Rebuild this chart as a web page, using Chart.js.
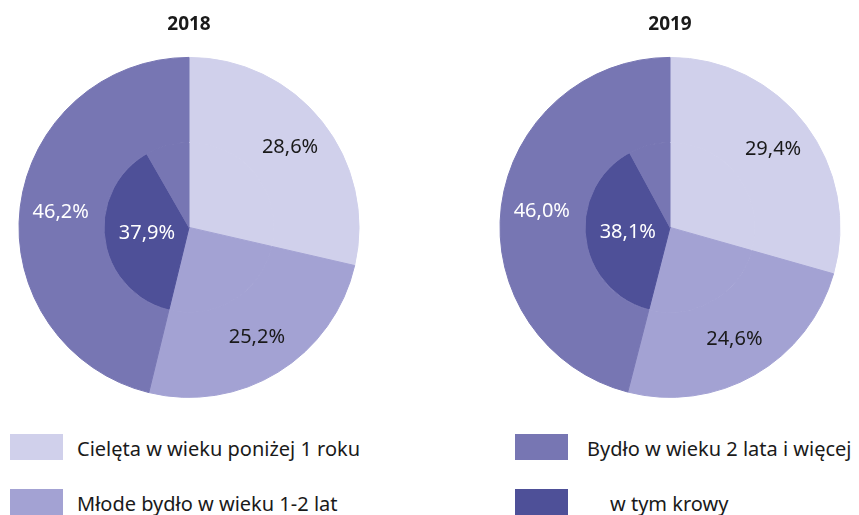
<!DOCTYPE html>
<html>
<head>
<meta charset="utf-8">
<script src="https://cdn.jsdelivr.net/npm/chart.js@4"></script>
<style>
  body { margin: 0; background: #fff; width: 859px; height: 515px; position: relative; overflow: hidden; font-family: "Noto Sans", sans-serif; }
  .pie { position: absolute; top: 0; }
  .key { position: absolute; width: 53px; height: 26px; }
  .txt { position: absolute; font-size: 20px; color: #1a1a1a; line-height: 26px; white-space: nowrap; }
</style>
</head>
<body>
<canvas id="pie2018" class="pie" width="378" height="398" style="left:0px"></canvas>
<canvas id="pie2019" class="pie" width="378" height="398" style="left:481px"></canvas>
<div id="legend"></div>
<script>
const years = ['2018', '2019'];
const categories = [
  'Cielęta w wieku poniżej 1 roku',
  'Młode bydło w wieku 1-2 lat',
  'Bydło w wieku 2 lata i więcej',
  'w tym krowy',
];
const calves = [28.6, 29.4];
const young = [25.2, 24.6];
const adult = [46.2, 46.0];
const cows = [37.9, 38.1];
const colors = ['#d0d0eb', '#a3a2d3', '#7776b3', '#4e5098'];

function fmt(v) {
  return v.toFixed(1).replace('.', ',') + '%';
}

// writes the percentages onto the slices
const sliceLabels = {
  id: 'sliceLabels',
  afterDatasetsDraw(chart) {
    const ctx = chart.ctx;
    ctx.save();
    ctx.font = '20px "Noto Sans"';
    ctx.textAlign = 'center';
    ctx.textBaseline = 'middle';
    const outer = chart.getDatasetMeta(0);
    outer.data.forEach((arc, j) => {
      const a = (arc.startAngle + arc.endAngle) / 2;
      const r = arc.outerRadius * 0.76;
      ctx.fillStyle = j < 2 ? '#1a1a1a' : '#ffffff';
      ctx.fillText(fmt(chart.data.datasets[0].data[j]), arc.x + Math.cos(a) * r, arc.y + Math.sin(a) * r);
    });
    const cowArc = chart.getDatasetMeta(1).data[2];
    const a = (cowArc.startAngle + cowArc.endAngle) / 2;
    const r = cowArc.outerRadius * 0.5;
    ctx.fillStyle = '#ffffff';
    ctx.fillText(fmt(chart.data.datasets[1].data[2]), cowArc.x + Math.cos(a) * r, cowArc.y + Math.sin(a) * r);
    ctx.restore();
  }
};

years.forEach((year, i) => {
  const outerColors = [colors[0], colors[1], colors[2]];
  const innerColors = [colors[0], colors[1], colors[3], colors[2]];
  new Chart(document.getElementById('pie' + year), {
    type: 'pie',
    data: {
      labels: categories,
      datasets: [{
        data: [calves[i], young[i], adult[i]],
        backgroundColor: outerColors,
        borderColor: outerColors,
        borderWidth: 1,
      },
      {
        data: [calves[i], young[i], cows[i], +(adult[i] - cows[i]).toFixed(1)],
        backgroundColor: innerColors,
        borderColor: innerColors,
        borderWidth: 1,
      }]
    },
    options: {
      responsive: false,
      animation: false,
      radius: 170,
      hoverOffset: 0,
      devicePixelRatio: 1,
      plugins: {
        legend: { display: false },
        tooltip: { enabled: false },
        title: {
          display: true,
          text: year,
          color: '#1a1a1a',
          font: { family: 'Noto Sans', size: 19, weight: 'bold' },
          padding: { top: 13, bottom: 21 }
        }
      }
    },
    plugins: [sliceLabels]
  });
});

// legend below both pies
const legendSpots = [
  { kx: 10, tx: 77, y: 434 },
  { kx: 10, tx: 77, y: 489 },
  { kx: 515, tx: 587, y: 434 },
  { kx: 515, tx: 610, y: 489 },
];
const legendColors = [colors[0], colors[1], colors[2], colors[3]];
const legend = document.getElementById('legend');
categories.forEach((name, k) => {
  const s = legendSpots[k];
  legend.innerHTML += `<div class="key" style="left:${s.kx}px;top:${s.y}px;background:${legendColors[k]}"></div>` +
    `<div class="txt" style="left:${s.tx}px;top:${s.y + 2}px">${name}</div>`;
});
</script>
</body>
</html>
